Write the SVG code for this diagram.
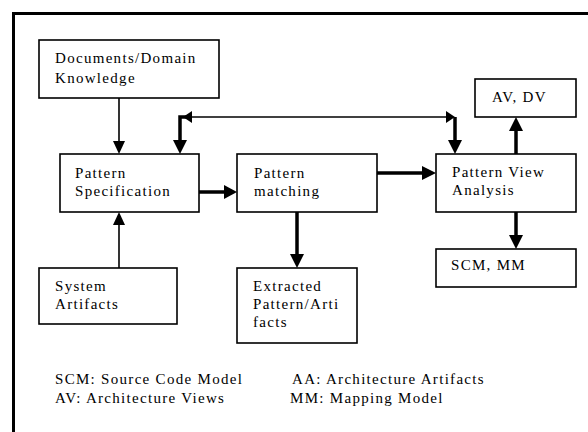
<svg xmlns="http://www.w3.org/2000/svg" width="588" height="432" viewBox="0 0 588 432">
<style>
.box{fill:#fff;stroke:#000;stroke-width:1.6}
.t{font-family:'Liberation Serif','Times New Roman',Times,'DejaVu Serif',serif;font-size:15px;letter-spacing:1.3px;fill:#000}
.thin{stroke:#000;stroke-width:1.6;fill:none}
.thick{stroke:#000;stroke-width:3.5;fill:none}
.ah{fill:#000}
</style>
<rect width="588" height="432" fill="#fff"/>
<path d="M13.5,432 V13.5 H588" fill="none" stroke="#000" stroke-width="3"/>
<g id="docs"><rect class="box" x="39" y="40" width="180" height="58"/><text class="t" x="55" y="63">Documents/Domain</text><text class="t" x="55" y="83">Knowledge</text></g>
<g id="spec"><rect class="box" x="60" y="154" width="139" height="58"/><text class="t" x="75" y="178">Pattern</text><text class="t" x="75" y="196">Specification</text></g>
<g id="matching"><rect class="box" x="237" y="154" width="140" height="58"/><text class="t" x="254" y="178">Pattern</text><text class="t" x="254" y="196">matching</text></g>
<g id="pva"><rect class="box" x="436" y="154" width="140" height="58"/><text class="t" x="452" y="177">Pattern View</text><text class="t" x="452" y="195">Analysis</text></g>
<g id="avdv"><rect class="box" x="475" y="79" width="101" height="38"/><text class="t" x="492" y="102">AV, DV</text></g>
<g id="system"><rect class="box" x="39" y="268" width="138" height="56"/><text class="t" x="55" y="291">System</text><text class="t" x="55" y="309">Artifacts</text></g>
<g id="extracted"><rect class="box" x="237" y="268" width="120" height="75"/><text class="t" x="253" y="291">Extracted</text><text class="t" x="253" y="309">Pattern/Arti</text><text class="t" x="253" y="327">facts</text></g>
<g id="scmmm"><rect class="box" x="436" y="249" width="140" height="38"/><text class="t" x="451" y="270">SCM, MM</text></g>
<g id="connectors">
<line class="thin" x1="119" y1="98" x2="119" y2="142"/><polygon class="ah" points="113,141 125,141 119,154"/>
<line class="thin" x1="119" y1="268" x2="119" y2="224"/><polygon class="ah" points="113,225 125,225 119,212"/>
<line class="thin" x1="186" y1="117" x2="448" y2="117"/>
<polygon class="ah" points="192,111 192,123 183,117"/>
<polygon class="ah" points="446,111 446,123 455,117"/>
<polyline class="thick" points="180,142 180,117 186,117"/>
<polygon class="ah" points="173,140 187,140 180,154"/>
<polyline class="thick" points="455,117 455,142"/>
<polygon class="ah" points="448,140 462,140 455,154"/>
<line class="thick" x1="199" y1="192" x2="226" y2="192"/><polygon class="ah" points="224,185 224,199 237,192"/>
<line class="thick" x1="377" y1="173" x2="424" y2="173"/><polygon class="ah" points="422,166 422,180 436,173"/>
<line class="thick" x1="516" y1="154" x2="516" y2="129"/><polygon class="ah" points="509,131 523,131 516,117"/>
<line class="thick" x1="516" y1="212" x2="516" y2="237"/><polygon class="ah" points="509,235 523,235 516,249"/>
<line class="thick" x1="297" y1="212" x2="297" y2="256"/><polygon class="ah" points="290,254 304,254 297,268"/>
</g>
<g id="legend">
<text class="t" x="55" y="384">SCM: Source Code Model</text>
<text class="t" x="55" y="403">AV: Architecture Views</text>
<text class="t" x="292" y="384">AA: Architecture Artifacts</text>
<text class="t" x="290" y="403">MM: Mapping Model</text>
</g>
</svg>
